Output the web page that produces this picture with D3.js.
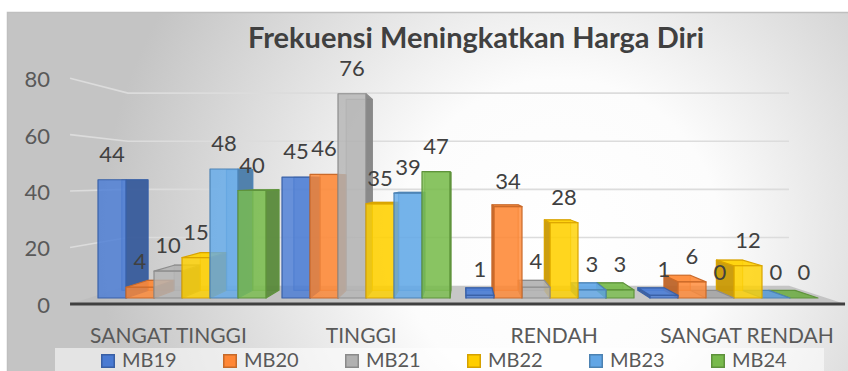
<!DOCTYPE html>
<html>
<head>
<meta charset="utf-8">
<script src="https://cdn.jsdelivr.net/npm/d3@7"></script>
<style>
  body { margin: 0; background: #ffffff; }
  svg { display: block; font-family: Lato, "Open Sans", "Noto Sans", sans-serif; }
</style>
</head>
<body>
<svg id="chart" width="848" height="371"></svg>
<script>
// ---- data ----
const categories = ["SANGAT TINGGI", "TINGGI", "RENDAH", "SANGAT RENDAH"];
const seriesNames = ["MB19", "MB20", "MB21", "MB22", "MB23", "MB24"];
const mb19 = [44, 45, 1, 1];
const mb20 = [4, 46, 34, 6];
const mb21 = [10, 76, 4, 0];
const mb22 = [15, 35, 28, 12];
const mb23 = [48, 39, 3, 0];
const mb24 = [40, 47, 3, 0];
const yTicks = [0, 20, 40, 60, 80];
const seriesColors = ["#4472C4", "#ED7D31", "#A5A5A5", "#FFC000", "#5B9BD5", "#70AD47"];
const titleText = "Frekuensi Meningkatkan Harga Diri";

const seriesValues = [mb19, mb20, mb21, mb22, mb23, mb24];

// ---- layout ----
const svg = d3.select("#chart");
const vp = { x: 464, y: 180 };          // vanishing point of the 3D view
const depth = { front: -0.05, barBack: 0.065, wall: 0.1045, label: -0.048 };
const floorLeft = 88.8, floorRight = 826.9;

const x0 = d3.scaleBand().domain(categories).range([90, 826])
  .paddingInner(16 / 184).paddingOuter(8 / 184);
const x1 = d3.scaleBand().domain(seriesNames).range([0, x0.bandwidth()]);
const y = d3.scaleLinear().domain([0, 80]).range([298, 83]);
const color = d3.scaleOrdinal().domain(seriesNames).range(seriesColors);

// perspective projection: X in front-plane pixels, v in data units, t = depth fraction
function P(X, v, t) {
  const yy = y(v);
  return [X + t * (vp.x - X), yy + t * (vp.y - yy)];
}
const line = pts => "M" + pts.map(p => p.join(",")).join("L") + "Z";
const pline = pts => "M" + pts.map(p => p.join(",")).join("L");

// ---- background ----
const defs = svg.append("defs");
const bg = defs.append("radialGradient").attr("id", "bgGrad")
  .attr("gradientUnits", "userSpaceOnUse")
  .attr("cx", 560).attr("cy", 240).attr("r", 460);
bg.append("stop").attr("offset", 0).attr("stop-color", "#ffffff");
bg.append("stop").attr("offset", 0.35).attr("stop-color", "#fcfcfc");
bg.append("stop").attr("offset", 1).attr("stop-color", "#c4c4c4");

svg.append("rect").attr("x", 7.5).attr("y", 12.5).attr("width", 850).attr("height", 370)
  .attr("fill", "url(#bgGrad)").attr("stroke", "#bfbfbf").attr("stroke-width", 1.5);

// ---- title ----
svg.append("text").attr("x", 476).attr("y", 48)
  .attr("text-anchor", "middle").attr("font-weight", "bold")
  .attr("font-size", 29).attr("fill", "#404040").text(titleText);

// ---- gridlines (left wall + back wall) ----
svg.append("g").selectAll("path").data(yTicks.filter(d => d > 0)).join("path")
  .attr("d", d => pline([P(floorLeft, d, depth.front), P(floorLeft, d, depth.wall), P(floorRight, d, depth.wall)]))
  .attr("fill", "none").attr("stroke", "#dcdcdc").attr("stroke-width", 1.6);

// ---- y tick labels ----
svg.append("g").selectAll("text").data(yTicks).join("text")
  .attr("x", 50).attr("y", d => P(floorLeft, d, depth.front)[1] + 9)
  .attr("text-anchor", "end").attr("font-size", 22).attr("fill", "#595959")
  .text(d => d);

// ---- floor ----
svg.append("path")
  .attr("d", line([P(floorLeft, 0, depth.front), P(floorRight, 0, depth.front),
                   P(floorRight, 0, depth.wall), P(floorLeft, 0, depth.wall)]))
  .attr("fill", "#bdbdbd").attr("fill-opacity", 0.85);
svg.append("path")
  .attr("d", pline([P(floorLeft, 0, depth.front), P(floorRight, 0, depth.front)]))
  .attr("stroke", "#404040").attr("stroke-width", 3).attr("fill", "none");

// ---- bars ----
const bars = [];
categories.forEach((c, ci) => {
  seriesNames.forEach((s, si) => {
    const X0 = x0(c) + x1(s), X1 = X0 + x1.bandwidth();
    bars.push({ c, s, v: seriesValues[si][ci], X0, X1, cx: (X0 + X1) / 2 });
  });
});
// farthest from the vanishing point first
bars.sort((a, b) => Math.abs(b.cx - vp.x) - Math.abs(a.cx - vp.x));

const b = depth.barBack;
const gBars = svg.append("g");
bars.forEach(d => {
  const base = d3.color(color(d.s));
  const dark = base.darker(0.7).formatHex();
  const edge = base.darker(0.45).formatHex();
  const light = base.brighter(0.25).formatHex();
  const g = gBars.append("g").attr("stroke", edge).attr("stroke-width", 1.2).attr("stroke-linejoin", "round");
  const v = d.v;
  // hidden back face, seen through the translucent box
  if (v > 0) {
    g.append("path").attr("d", line([P(d.X0, v, b), P(d.X1, v, b), P(d.X1, 0, b), P(d.X0, 0, b)]))
      .attr("fill", base.formatHex()).attr("fill-opacity", 0.35).attr("stroke-opacity", 0.6);
  }
  // visible side face
  if (v > 0 && d.X1 < vp.x) {
    g.append("path").attr("d", line([P(d.X1, v, 0), P(d.X1, v, b), P(d.X1, 0, b), P(d.X1, 0, 0)]))
      .attr("fill", dark).attr("fill-opacity", 0.9);
  } else if (v > 0 && d.X0 > vp.x) {
    g.append("path").attr("d", line([P(d.X0, v, 0), P(d.X0, v, b), P(d.X0, 0, b), P(d.X0, 0, 0)]))
      .attr("fill", dark).attr("fill-opacity", 0.9);
  }
  // top face
  if (y(v) > vp.y) {
    g.append("path").attr("d", line([P(d.X0, v, 0), P(d.X1, v, 0), P(d.X1, v, b), P(d.X0, v, b)]))
      .attr("fill", v > 0 ? light : base.formatHex()).attr("fill-opacity", 0.9);
  }
  // front face
  if (v > 0) {
    g.append("path").attr("d", line([P(d.X0, v, 0), P(d.X1, v, 0), P(d.X1, 0, 0), P(d.X0, 0, 0)]))
      .attr("fill", light).attr("fill-opacity", 0.82);
  }
});

// ---- data labels ----
svg.append("g").selectAll("text").data(bars).join("text")
  .attr("x", d => d.cx).attr("y", d => y(d.v) - 18)
  .attr("text-anchor", "middle").attr("font-size", 22).attr("fill", "#404040")
  .text(d => d.v);

// ---- category labels ----
svg.append("g").selectAll("text").data(categories).join("text")
  .attr("x", d => P(x0(d) + x0.bandwidth() / 2, 0, depth.label)[0]).attr("y", 343)
  .attr("text-anchor", "middle").attr("font-size", 21).attr("fill", "#595959")
  .text(d => d);

// ---- legend ----
svg.append("rect").attr("x", 55).attr("y", 348).attr("width", 769).attr("height", 30)
  .attr("fill", "#ffffff").attr("fill-opacity", 0.55);
const legendX = d3.scaleBand().domain(seriesNames).range([101, 101 + 122 * seriesNames.length]);
const items = svg.append("g").selectAll("g").data(seriesNames).join("g")
  .attr("transform", d => `translate(${legendX(d)},0)`);
items.append("rect").attr("x", 0.75).attr("y", 354.75).attr("width", 12.5).attr("height", 12.5)
  .attr("fill", d => d3.color(color(d)).brighter(0.2).formatHex())
  .attr("stroke", d => d3.color(color(d)).darker(0.5).formatHex()).attr("stroke-width", 1.5);
items.append("text").attr("x", 21).attr("y", 366.5).attr("font-size", 20).attr("fill", "#595959")
  .text(d => d);
</script>
</body>
</html>
